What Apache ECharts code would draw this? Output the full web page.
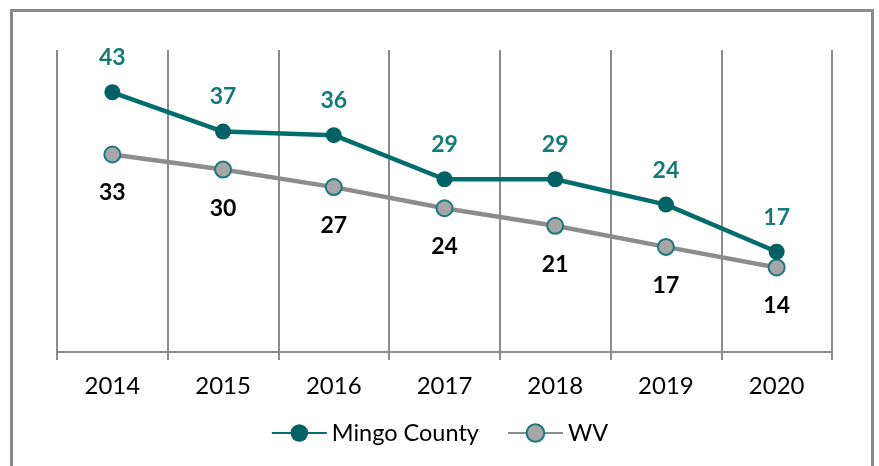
<!DOCTYPE html>
<html>
<head>
<meta charset="utf-8">
<script src="https://cdn.jsdelivr.net/npm/echarts@6/dist/echarts.min.js"></script>
<style>
html,body{margin:0;padding:0;background:#fff;}
#c{width:879px;height:466px;}
</style>
</head>
<body>
<div id="c"></div>
<script>
const years = ['2014','2015','2016','2017','2018','2019','2020'];
const mingoValues = [43.0, 36.5, 35.9, 28.6, 28.6, 24.4, 16.6];
const wvValues = [32.7, 30.2, 27.3, 23.8, 20.9, 17.4, 14.0];
const seriesNames = ['Mingo County', 'WV'];

const FONT = 'Lato';
const chart = echarts.init(document.getElementById('c'), null, {renderer: 'canvas'});
chart.setOption({
  animation: false,
  backgroundColor: '#ffffff',
  graphic: [{
    type: 'rect',
    shape: {x: 11.5, y: 10.5, width: 861, height: 480},
    style: {fill: 'none', stroke: '#8a8a8a', lineWidth: 3},
    silent: true
  }],
  grid: {left: 57, right: 47, top: 50, bottom: 114, containLabel: false},
  legend: {
    data: seriesNames,
    left: 'center',
    top: 416,
    itemWidth: 55,
    itemHeight: 22,
    itemGap: 28,
    textStyle: {fontFamily: FONT, fontSize: 23.5, color: '#000'}
  },
  xAxis: {
    type: 'category',
    data: years,
    boundaryGap: true,
    axisLine: {lineStyle: {color: '#8c8c8c', width: 2}},
    axisTick: {show: true, length: 8, lineStyle: {color: '#8c8c8c', width: 2}},
    splitLine: {show: true, lineStyle: {color: '#8c8c8c', width: 2}},
    axisLabel: {margin: 22, fontFamily: FONT, fontSize: 24, color: '#000'}
  },
  yAxis: {
    type: 'value', min: 0, max: 50, show: false,
    splitLine: {show: false}
  },
  series: [
    {
      name: seriesNames[0],
      type: 'line',
      data: mingoValues,
      symbol: 'circle',
      symbolSize: 16,
      z: 3,
      lineStyle: {color: '#016d6d', width: 4.5},
      itemStyle: {color: '#006262', borderColor: '#006262', borderWidth: 0},
      label: {
        show: true, position: 'top', distance: 15,
        fontFamily: FONT, fontSize: 23, fontWeight: 'bold', color: '#127a78',
        formatter: p => Math.round(p.value)
      }
    },
    {
      name: seriesNames[1],
      type: 'line',
      data: wvValues,
      symbol: 'circle',
      symbolSize: 16,
      z: 2,
      lineStyle: {color: '#8c8c8c', width: 4.5},
      itemStyle: {color: '#a6a6a6', borderColor: '#17797a', borderWidth: 2},
      label: {
        show: true, position: 'bottom', distance: 18,
        fontFamily: FONT, fontSize: 23, fontWeight: 'bold', color: '#000',
        formatter: p => Math.round(p.value)
      }
    }
  ]
});
</script>
</body>
</html>
